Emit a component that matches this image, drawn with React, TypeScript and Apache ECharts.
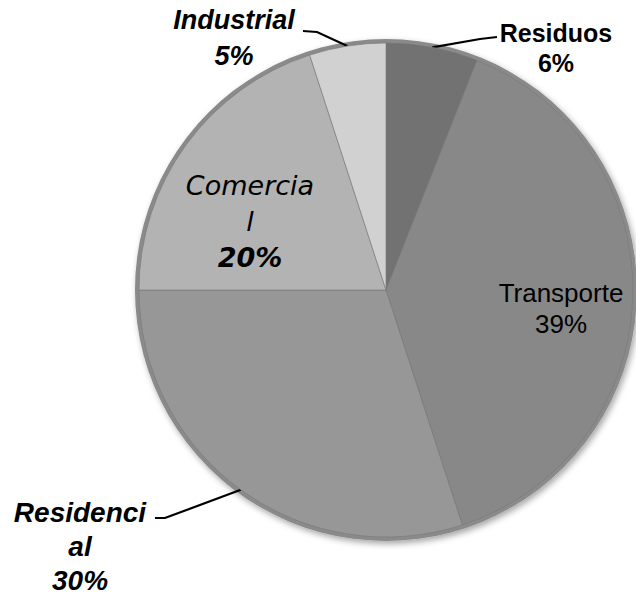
import React, { useEffect, useRef } from "react";
import * as echarts from "echarts";

const categories = ["Residuos", "Transporte", "Residencial", "Comercial", "Industrial"];
const values = [6, 39, 30, 20, 5];
const labelNames = ["Residuos", "Transporte", "Residenci\nal", "Comercia\nl", "Industrial"];
const colors = ["#727272", "#888888", "#979797", "#b3b3b3", "#d1d1d1"];

// label styling per slice (styles only)
const labelStyles: any[] = [
  { position: "outside", fontFamily: "Liberation Sans, Arial, sans-serif", fontWeight: "bold", fontStyle: "normal", fontSize: 25, lineHeight: 30 },
  { position: "inside", fontFamily: "Liberation Sans, Arial, sans-serif", fontWeight: "normal", fontStyle: "normal", fontSize: 26, lineHeight: 31 },
  { position: "outside", fontFamily: "Liberation Sans, Arial, sans-serif", fontWeight: "bold", fontStyle: "italic", fontSize: 28, lineHeight: 34 },
  { position: "inside", fontFamily: "DejaVu Sans, sans-serif", fontWeight: "normal", fontStyle: "italic", fontSize: 27, lineHeight: 36 },
  { position: "outside", fontFamily: "Liberation Sans, Arial, sans-serif", fontWeight: "bold", fontStyle: "italic", fontSize: 27, lineHeight: 36 },
];
// label block centres and leader bends (layout only)
const labelPos: number[][] = [
  [556, 48],
  [561, 308],
  [80, 546],
  [250, 221],
  [234, 38],
];
const leaderTail: (number[][] | null)[] = [
  [[480, 39], [497, 37]],
  null,
  [[165, 518], [155, 518]],
  null,
  [[317, 32], [303, 31]],
];

export default function App() {
  const ref = useRef<HTMLDivElement>(null);
  useEffect(() => {
    if (!ref.current) return;
    const chart = echarts.init(ref.current, undefined, { renderer: "svg" });
    const data = categories.map((c, i) => {
      const s = labelStyles[i];
      const isBoldPctItalic = i === 3;
      return {
        name: c,
        value: values[i],
        itemStyle: { color: colors[i] },
        label: {
          show: true,
          position: s.position,
          color: "#000",
          fontFamily: s.fontFamily,
          fontWeight: s.fontWeight,
          fontStyle: s.fontStyle,
          fontSize: s.fontSize,
          lineHeight: s.lineHeight,
          align: "center",
          formatter: isBoldPctItalic
            ? `${labelNames[i]}\n{p|${values[i]}%}`
            : `${labelNames[i]}\n${values[i]}%`,
          rich: isBoldPctItalic
            ? {
                p: {
                  fontFamily: "DejaVu Sans, sans-serif",
                  fontWeight: "bold",
                  fontStyle: "italic",
                  fontSize: 27,
                  lineHeight: 36,
                  color: "#000",
                },
              }
            : undefined,
        },
        labelLine: {
          show: s.position === "outside",
          lineStyle: { color: "#000", width: 2.2 },
        },
      };
    });
    chart.setOption({
      animation: false,
      backgroundColor: "#ffffff",
      series: [
        {
          type: "pie",
          silent: true,
          center: [386, 290],
          radius: 251,
          label: { show: false },
          labelLine: { show: false },
          itemStyle: {
            color: "#8a8a8a",
            shadowBlur: 6,
            shadowOffsetX: 2,
            shadowOffsetY: 3,
            shadowColor: "rgba(0,0,0,0.35)",
          },
          data: [{ value: 1, name: "" }],
          z: 1,
        },
        {
          type: "pie",
          center: [386, 290],
          radius: 247,
          startAngle: 90,
          clockwise: true,
          avoidLabelOverlap: false,
          itemStyle: { borderColor: "rgba(120,120,120,0.6)", borderWidth: 1 },
          data,
          labelLayout: (params: any) => {
            const i = params.dataIndex;
            const pos = labelPos[i];
            const out: any = {
              x: pos[0],
              y: pos[1],
              align: "center",
              verticalAlign: "middle",
            };
            const tail = leaderTail[i];
            if (tail && params.labelLinePoints) {
              out.labelLinePoints = [params.labelLinePoints[0], tail[0], tail[1]];
            }
            return out;
          },
          z: 2,
        },
      ],
    });
    return () => chart.dispose();
  }, []);
  return (
    <div
      ref={ref}
      style={{ position: "fixed", left: 0, top: 0, width: 636, height: 599 }}
    />
  );
}
